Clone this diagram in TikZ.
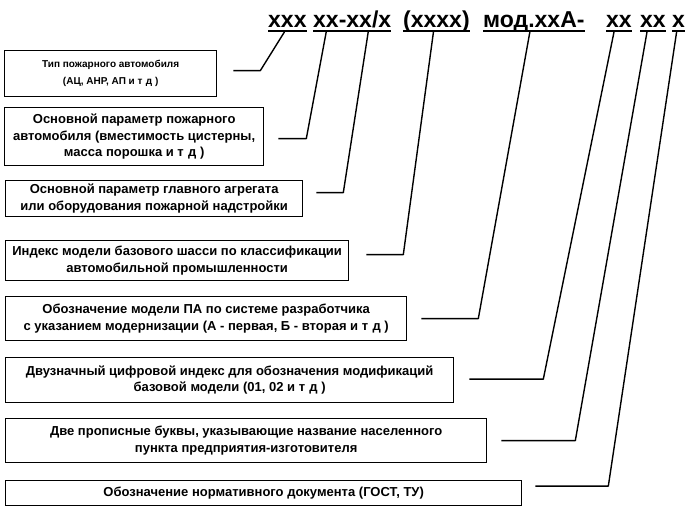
\documentclass[tikz,border=0pt]{standalone}
\usepackage{fontspec}
\setmainfont{Liberation Sans}
\usetikzlibrary{positioning,calc}
\tikzset{
  descbox/.style={draw, line width=1.3pt, inner sep=0pt, align=center, anchor=north west,
    font=\fontsize{13}{16.5}\selectfont\bfseries},
  codepart/.style={inner sep=0pt, anchor=base west, font=\fontsize{23}{23}\selectfont\bfseries},
  uline/.style={line width=2pt},
  leader/.style={line width=1.4pt, line join=round},
}

\begin{document}
\begin{tikzpicture}[x=1pt,y=-1pt]
  \useasboundingbox (0,0) rectangle (687,507);
  % designation pieces on top
  \node[codepart] (h1) at (268,27) {ххх};
  \node[codepart] (h2) at (313,27) {хх-хх/х};
  \node[codepart] (h3) at (403,27) {(хххх)};
  \node[codepart] (h4) at (483,27) {мод.ххА-};
  \node[codepart] (h5) at (606,27) {хх};
  \node[codepart] (h6) at (640,27) {хх};
  \node[codepart] (h7) at (672,27) {х};
  \foreach \n in {h1,h2,h3,h4,h5,h6,h7}
    \draw[uline] ([yshift=-4pt]\n.base west) -- ([yshift=-4pt]\n.base east);
  % description boxes
  \node[descbox, minimum width=212pt, minimum height=46pt, font=\fontsize{10}{17}\selectfont\bfseries]
    (tip) at (4,50) {Тип пожарного автомобиля\\(АЦ, АНР, АП и т\,\,д )};
  \node[descbox, minimum width=259pt, minimum height=58pt] (param) at (4,107)
    {Основной параметр пожарного\\автомобиля (вместимость цистерны,\\масса порошка и т\,\,д )};
  \node[descbox, minimum width=297pt, minimum height=36pt] (agregat) at (5,180)
    {Основной параметр главного агрегата\\или оборудования пожарной надстройки};
  \node[descbox, minimum width=343pt, minimum height=40pt] (shassi) at (5,240)
    {Индекс модели базового шасси по классификации\\автомобильной промышленности};
  \node[descbox, minimum width=401pt, minimum height=44pt] (model) at (5,296)
    {Обозначение модели ПА по системе разработчика\\с указанием модернизации (А - первая, Б - вторая и т\,\,д )};
  \node[descbox, minimum width=448pt, minimum height=45pt] (modif) at (5,357)
    {Двузначный цифровой индекс для обозначения модификаций\\базовой модели (01, 02 и т\,\,д )};
  \node[descbox, minimum width=481pt, minimum height=44pt] (gorod) at (5,418)
    {Две прописные буквы, указывающие название населенного\\пункта предприятия-изготовителя};
  \node[descbox, minimum width=516pt, minimum height=25pt] (gost) at (5,480)
    {Обозначение нормативного документа (ГОСТ, ТУ)};
  % leaders
  \draw[leader] ([xshift=16pt,yshift=3pt]tip.east) -- ++(27,0) -- ([xshift=-3pt,yshift=-5pt]h1.base);
  \draw[leader] ([xshift=14pt,yshift=-2pt]param.east) -- ++(28,0) -- ([xshift=-26pt,yshift=-5pt]h2.base);
  \draw[leader] ([xshift=13pt,yshift=6pt]agregat.east) -- ++(27,0) -- ([xshift=16pt,yshift=-5pt]h2.base);
  \draw[leader] ([xshift=17pt,yshift=6pt]shassi.east) -- ++(37,0) -- ([xshift=-3pt,yshift=-5pt]h3.base);
  \draw[leader] ([xshift=14pt]model.east) -- ++(57,0) -- ([xshift=-4pt,yshift=-5pt]h4.base);
  \draw[leader] ([xshift=15pt,yshift=1pt]modif.east) -- ++(74,0) -- ([xshift=-5pt,yshift=-5pt]h5.base);
  \draw[leader] ([xshift=14pt]gorod.east) -- ++(74,0) -- ([xshift=-6pt,yshift=-5pt]h6.base);
  \draw[leader] ([xshift=13pt,yshift=7pt]gost.east) -- ++(73,0) -- ([xshift=-2pt,yshift=-5pt]h7.base);
\end{tikzpicture}
\end{document}
